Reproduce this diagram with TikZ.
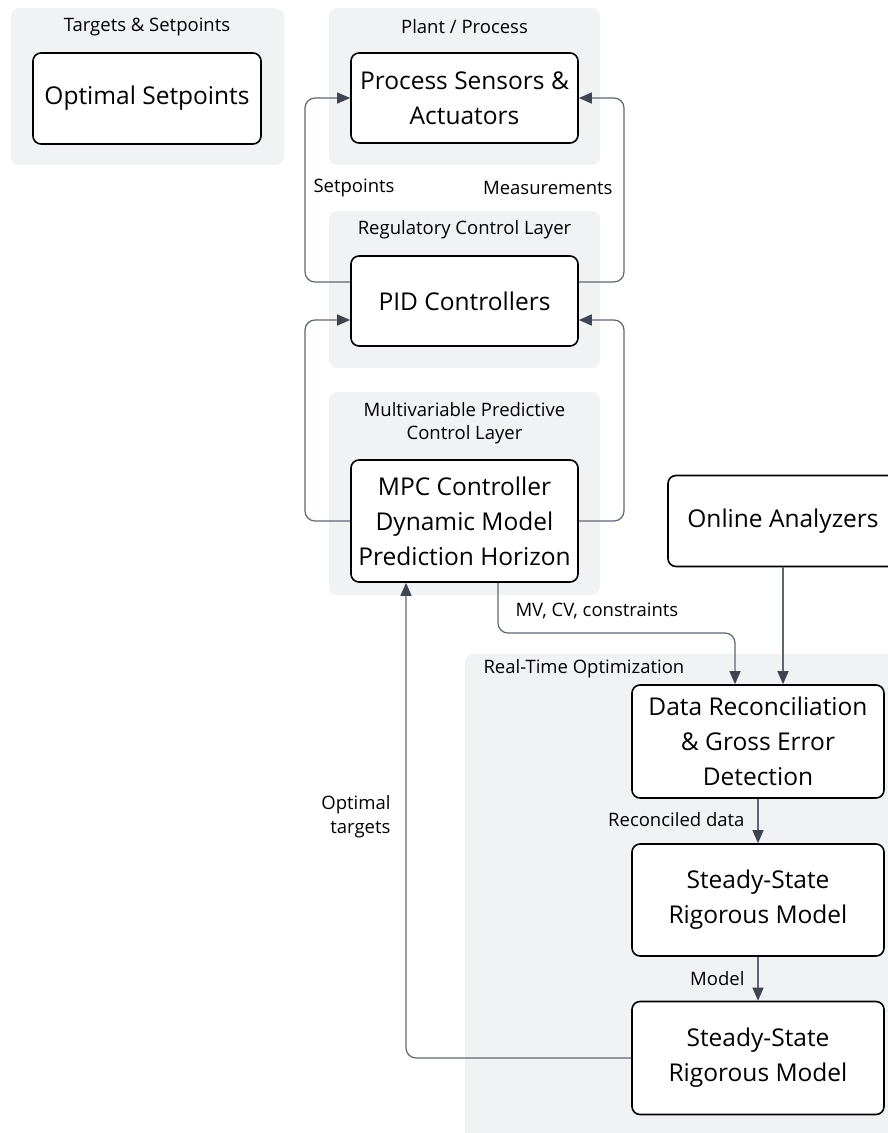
\documentclass[tikz,border=0pt]{standalone}
\usepackage{fontspec}
\setmainfont{Open Sans}
\usetikzlibrary{arrows.meta,positioning}
\definecolor{grpfill}{HTML}{F1F2F4}
\definecolor{linkgray}{HTML}{5F6673}
\definecolor{tipgray}{HTML}{3E4450}
\tikzset{
  group/.style={fill=grpfill, rounded corners=8pt},
  block/.style={draw=black, line width=1.6pt, fill=white, rounded corners=8pt,
    align=center, inner sep=0pt, font=\fontsize{24.5}{35}\selectfont},
  grplabel/.style={font=\fontsize{18.5}{23.5}\selectfont, align=center},
  link/.style={draw=linkgray, line width=1.2pt, rounded corners=10pt},
  arrowed/.style={-{Triangle[length=13pt,width=11pt,color=tipgray]}},
  edgelabel/.style={font=\fontsize{18.5}{24}\selectfont, align=right}
}
\begin{document}
\begin{tikzpicture}[x=1pt, y=-1pt]
    \useasboundingbox (0,0) rectangle (887,1133);

    % layer backgrounds
    \fill[group] (11,8) rectangle (284,165);
    \fill[group] (329,8) rectangle (600,165);
    \fill[group] (329,211) rectangle (600,368);
    \fill[group] (329,392) rectangle (600,595);
    \fill[group] (465,654) rectangle (905,1150);

    \node[grplabel] (tgtlbl) at (147,27) {Targets \& Setpoints};
    \node[grplabel] (plantlbl) at (464.5,27) {Plant / Process};
    \node[grplabel] (reglbl) at (464.5,230) {Regulatory Control Layer};
    \node[grplabel] (mpclbl) at (464.5,423) {Multivariable Predictive\\Control Layer};
    \node[grplabel, anchor=west] (rtolbl) at (480,669) {Real-Time Optimization};

    % blocks
    \node[block, minimum width=228pt, minimum height=91pt] (opt) at (147,98.5) {Optimal Setpoints};
    \node[block, minimum width=227pt, minimum height=90pt] (sens) at (464.5,98) {Process Sensors \&\\Actuators};
    \node[block, minimum width=227pt, minimum height=90pt] (pid) at (464.5,301) {PID Controllers};
    \node[block, minimum width=227pt, minimum height=122pt] (mpc) at (464.5,521) {MPC Controller\\Dynamic Model\\Prediction Horizon};
    \node[block, minimum width=230pt, minimum height=91pt] (ana) at (783,521) {Online Analyzers};
    \node[block, minimum width=252pt, minimum height=113pt] (dr) at (758,741.5) {Data Reconciliation\\\& Gross Error\\Detection};
    \node[block, minimum width=252pt, minimum height=112pt] (ss1) at (758,900) {Steady-State\\Rigorous Model};
    \node[block, minimum width=252pt, minimum height=113pt] (ss2) at (758,1058) {Steady-State\\Rigorous Model};

    % regulatory loops
    \coordinate (spleft) at (305,282);
    \coordinate (msright) at (624,282);
    \draw[link, arrowed] ([yshift=19pt]pid.west) -- (spleft) |- (sens.west);
    \draw[link, arrowed] ([yshift=19pt]pid.east) -- (msright) |- (sens.east);
    \draw[link, arrowed] (mpc.west) -| (305,320) -- ([yshift=-19pt]pid.west);
    \draw[link, arrowed] (mpc.east) -| (624,320) -- ([yshift=-19pt]pid.east);
    \node[edgelabel, anchor=west] (splbl) at (310,188) {Setpoints};
    \node[edgelabel, anchor=east] (mslbl) at (616,188) {Measurements};

    % optimization chain
    \coordinate (mvbend) at (735,633);
    \draw[link, arrowed] ([xshift=33.5pt]mpc.south) |- (mvbend) -- ([xshift=-23pt]dr.north);
    \node[edgelabel, anchor=west] (mvlbl) at (512,611) {MV, CV, constraints};
    \draw[link, arrowed] (ana.south) -- (ana.south |- dr.north);
    \draw[link, arrowed] (dr.south) -- (ss1.north);
    \node[edgelabel, anchor=east] (rclbl) at (748,820) {Reconciled data};
    \draw[link, arrowed] (ss1.south) -- (ss2.north);
    \node[edgelabel, anchor=east] (mdlbl) at (748,979) {Model};
    \draw[link, arrowed] (ss2.west) -| ([xshift=-58.5pt]mpc.south);
    \node[edgelabel, anchor=east] (otlbl) at (394,817) {Optimal\\targets};
\end{tikzpicture}
\end{document}
